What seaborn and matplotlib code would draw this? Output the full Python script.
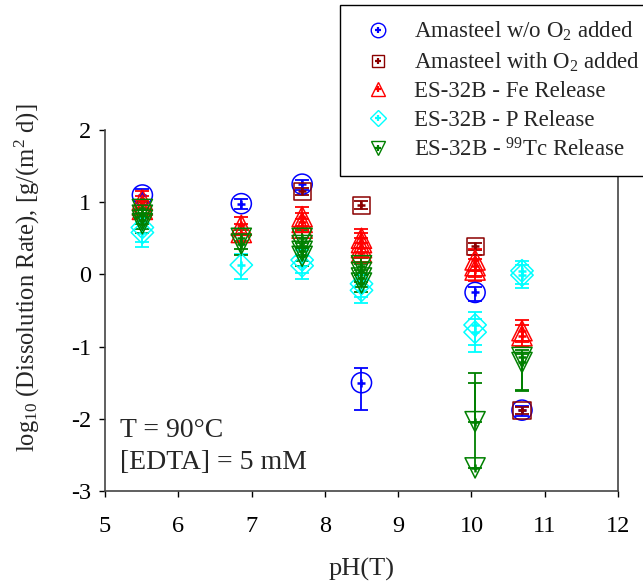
import matplotlib
matplotlib.use("Agg")
import matplotlib.pyplot as plt
import seaborn as sns
import numpy as np

# ---------------- data ----------------
blue_ph = [5.51, 6.86, 7.69, 8.50, 10.05, 10.69]
blue_y = [1.10, 0.98, 1.25, -1.50, -0.25, -1.88]
blue_lo = [0.10, 0.08, 0.08, 0.38, 0.12, 0.08]
blue_hi = [0.08, 0.07, 0.06, 0.20, 0.08, 0.06]

brown_ph = [7.69, 8.50, 10.05, 10.69]
brown_y = [1.15, 0.96, 0.39, -1.88]
brown_lo = [0.05, 0.05, 0.05, 0.05]
brown_hi = [0.05, 0.05, 0.05, 0.05]

fe_ph = [5.51, 5.51, 5.51, 6.86, 6.86, 7.69, 7.69, 7.69,
         8.50, 8.50, 8.50, 8.50, 10.05, 10.05, 10.05, 10.69, 10.69]
fe_y = [1.03, 0.96, 0.90, 0.68, 0.58, 0.80, 0.72, 0.64,
        0.50, 0.44, 0.37, 0.30, 0.20, 0.12, 0.06, -0.78, -0.85]
fe_err = [0.12, 0.12, 0.12, 0.12, 0.12, 0.13, 0.13, 0.13,
          0.13, 0.13, 0.13, 0.13, 0.15, 0.15, 0.15, 0.15, 0.15]

p_ph = [5.51, 5.51, 6.86, 7.69, 7.69, 8.50, 8.50, 10.05, 10.05, 10.69, 10.69]
p_y = [0.65, 0.58, 0.13, 0.20, 0.12, -0.13, -0.22, -0.70, -0.80, 0.05, -0.01]
p_lo = [0.20, 0.20, 0.20, 0.18, 0.18, 0.18, 0.18, 0.28, 0.28, 0.18, 0.18]
p_hi = [0.15, 0.15, 0.15, 0.14, 0.14, 0.14, 0.14, 0.18, 0.18, 0.14, 0.14]

tc_ph = [5.51, 5.51, 5.51, 5.51, 6.86, 6.86, 7.69, 7.69, 7.69, 7.69,
         8.50, 8.50, 8.50, 8.50, 10.05, 10.05, 10.69, 10.69]
tc_y = [0.90, 0.82, 0.75, 0.70, 0.50, 0.42, 0.50, 0.40, 0.32, 0.25,
        0.12, 0.03, -0.05, -0.12, -2.04, -2.68, -1.15, -1.22]
tc_lo = [0.12, 0.12, 0.12, 0.12, 0.15, 0.15, 0.13, 0.13, 0.13, 0.13,
         0.13, 0.13, 0.13, 0.13, 0.0, 0.0, 0.45, 0.40]
tc_hi = [0.10, 0.10, 0.10, 0.10, 0.12, 0.12, 0.11, 0.11, 0.11, 0.11,
         0.11, 0.11, 0.11, 0.11, 0.67, 1.17, 0.10, 0.12]

x_ticks = [5, 6, 7, 8, 9, 10, 11, 12]
y_ticks = [-3, -2, -1, 0, 1, 2]

labels = ["Amasteel w/o O$_2$ added", "Amasteel with O$_2$ added",
          "ES-32B - Fe Release", "ES-32B - P Release",
          "ES-32B - $^{99}$Tc Release"]

# ---------------- style ----------------
sns.set_style("ticks")
plt.rcParams["font.family"] = ["Liberation Serif", "DejaVu Serif"]
plt.rcParams["mathtext.fontset"] = "custom"
plt.rcParams["mathtext.rm"] = "Liberation Serif"
plt.rcParams["mathtext.it"] = "Liberation Serif:italic"

fig = plt.figure(figsize=(6.43, 5.84), dpi=100)
ax = fig.add_axes([105 / 643, 1 - 491 / 584, (618 - 105) / 643, (491 - 130) / 584])

series = [
    (blue_ph, blue_y, blue_lo, blue_hi, "#0000FF", "o", 210),
    (brown_ph, brown_y, brown_lo, brown_hi, "#8B0000", "s", 150),
    (fe_ph, fe_y, fe_err, fe_err, "#FF0000", "^", 210),
    (p_ph, p_y, p_lo, p_hi, "#00FFFF", "D", 130),
    (tc_ph, tc_y, tc_lo, tc_hi, "#008000", "v", 210),
]

handles = []
for i, (xs, ys, lo, hi, col, mk, sz) in enumerate(series):
    ax.errorbar(xs, ys, yerr=[lo, hi], fmt="none", ecolor=col, elinewidth=1.3,
                capsize=5, capthick=1.3, zorder=2 + i * 0.1)
    sns.scatterplot(x=xs, y=ys, marker=mk, s=sz, color=col, facecolor="none",
                    edgecolor=col, linewidth=1.1, ax=ax, zorder=3 + i * 0.1)
    sns.scatterplot(x=xs, y=ys, marker="+", s=40, color=col, linewidth=1.8,
                    ax=ax, zorder=3.05 + i * 0.1)
    h1 = plt.Line2D([], [], ls="none", marker=mk, mfc="none", mec=col,
                    ms=np.sqrt(sz) * 0.72, mew=1.0)
    h2 = plt.Line2D([], [], ls="none", marker="+", color=col, ms=5, mew=1.6)
    handles.append((h1, h2))

ax.set_xlim(5, 12)
ax.set_ylim(-3, 2)
ax.set_xticks(x_ticks)
ax.set_yticks(y_ticks)
ax.set_xticklabels([str(t) for t in x_ticks])
ax.set_yticklabels([str(t) for t in y_ticks])
ax.tick_params(axis="both", labelsize=17.5, length=4, width=1, direction="out",
               colors="black")
ax.tick_params(axis="x", pad=14)
ax.tick_params(axis="y", pad=6)
for side in ["left", "bottom", "right"]:
    ax.spines[side].set_visible(True)
    ax.spines[side].set_color("#444444")
    ax.spines[side].set_linewidth(1.2)
ax.spines["top"].set_visible(False)

ax.set_xlabel("pH(T)", fontsize=19, labelpad=15)
ax.set_ylabel("log$_{10}$ (Dissolution Rate), [g/(m$^2$ d)]", fontsize=17.7)
ax.yaxis.set_label_coords(-0.123, 0.59)

ax.text(5.2, -2.16, "T = 90°C", fontsize=20, va="center", ha="left")
ax.text(5.2, -2.61, "[EDTA] = 5 mM", fontsize=20, va="center", ha="left")

leg = fig.legend(handles, labels, loc="upper left",
                 bbox_to_anchor=(340 / 643, 1 - 5 / 584),
                 fontsize=16.5, frameon=True, fancybox=False, framealpha=1,
                 edgecolor="black", borderpad=0.65, labelspacing=0.32,
                 handletextpad=0.6, handlelength=2.0, borderaxespad=0)
leg.get_frame().set_linewidth(1.0)
leg.set_zorder(10)

fig.savefig("out.png", dpi=100)
